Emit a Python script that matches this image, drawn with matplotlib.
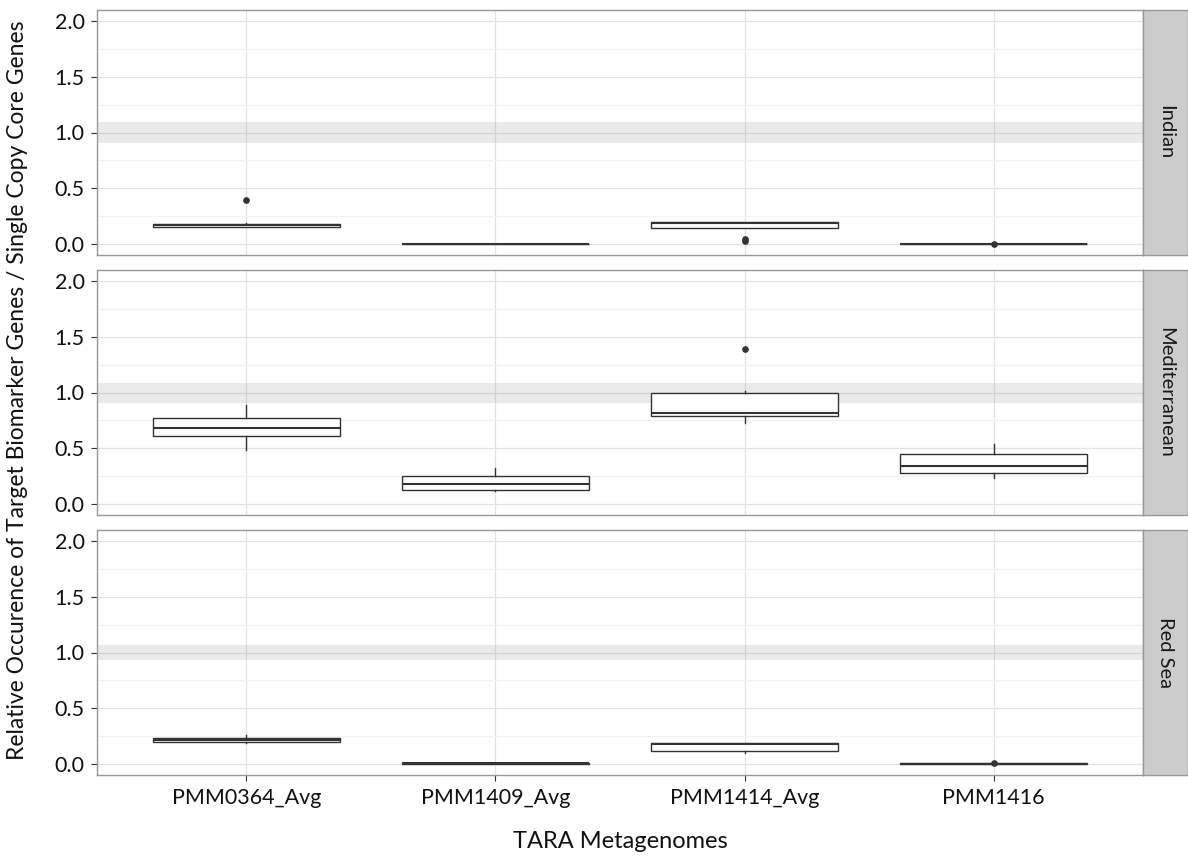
import matplotlib.pyplot as plt
from matplotlib.ticker import MultipleLocator

plt.rcParams['font.family'] = ['Lato', 'DejaVu Sans']

# categories and facets
samples = ["PMM0364_Avg", "PMM1409_Avg", "PMM1414_Avg", "PMM1416"]
regions = ["Indian", "Mediterranean", "Red Sea"]

# box statistics per region, one value per sample
whislo = {
    "Indian": [0.15, 0.0, 0.145, 0.0],
    "Mediterranean": [0.48, 0.12, 0.73, 0.23],
    "Red Sea": [0.19, 0.0, 0.096, 0.0],
}
q1 = {
    "Indian": [0.15, 0.0, 0.145, 0.0],
    "Mediterranean": [0.605, 0.125, 0.79, 0.28],
    "Red Sea": [0.195, 0.0, 0.12, 0.0],
}
median = {
    "Indian": [0.165, 0.0, 0.19, 0.0],
    "Mediterranean": [0.68, 0.175, 0.82, 0.34],
    "Red Sea": [0.21, 0.005, 0.18, 0.0],
}
q3 = {
    "Indian": [0.18, 0.0, 0.197, 0.0],
    "Mediterranean": [0.775, 0.25, 1.0, 0.445],
    "Red Sea": [0.23, 0.01, 0.188, 0.005],
}
whishi = {
    "Indian": [0.19, 0.0, 0.197, 0.0],
    "Mediterranean": [0.89, 0.326, 1.013, 0.535],
    "Red Sea": [0.26, 0.01, 0.188, 0.005],
}
fliers = {
    "Indian": [[0.395], [], [0.03, 0.045], [0.003]],
    "Mediterranean": [[], [], [1.39], []],
    "Red Sea": [[], [], [], [0.005]],
}
# reference band around 1.0 (low, high)
band = {
    "Indian": (0.91, 1.09),
    "Mediterranean": (0.905, 1.085),
    "Red Sea": (0.93, 1.065),
}

W, H = 1188, 859
fig = plt.figure(figsize=(W / 100, H / 100), dpi=100)

panel_left, panel_right, strip_right = 97, 1143, 1188
panel_tops = [10, 270, 530]
panel_h = 245

edge = '#333333'
for i, reg in enumerate(regions):
    top = panel_tops[i]
    ax = fig.add_axes([panel_left / W, 1 - (top + panel_h) / H,
                       (panel_right - panel_left) / W, panel_h / H])
    sax = fig.add_axes([panel_right / W, 1 - (top + panel_h) / H,
                        (strip_right - panel_right) / W, panel_h / H])

    ax.set_axisbelow(True)
    ax.yaxis.set_major_locator(MultipleLocator(0.5))
    ax.yaxis.set_minor_locator(MultipleLocator(0.25))
    ax.grid(which='major', color='#E2E2E2', linewidth=0.9)
    ax.grid(which='minor', axis='y', color='#F3F3F3', linewidth=0.9)
    ax.axhspan(band[reg][0], band[reg][1], color='#999999', alpha=0.2,
               linewidth=0, zorder=1)

    stats = []
    for j, s in enumerate(samples):
        stats.append(dict(med=median[reg][j], q1=q1[reg][j], q3=q3[reg][j],
                          whislo=whislo[reg][j], whishi=whishi[reg][j],
                          fliers=fliers[reg][j], label=s))
    ax.bxp(stats, positions=[1, 2, 3, 4], widths=0.75, showcaps=False,
           patch_artist=True,
           boxprops=dict(facecolor='white', edgecolor=edge, linewidth=1.0),
           whiskerprops=dict(color=edge, linewidth=1.0),
           medianprops=dict(color=edge, linewidth=1.5),
           flierprops=dict(marker='o', markersize=3.8, markerfacecolor=edge,
                           markeredgecolor=edge, linestyle='none'),
           zorder=3)

    ax.set_xlim(0.4, 4.6)
    ax.set_ylim(-0.1, 2.1)
    ax.set_yticks([0.0, 0.5, 1.0, 1.5, 2.0])
    ax.set_yticklabels(['0.0', '0.5', '1.0', '1.5', '2.0'])
    ax.set_xticks([1, 2, 3, 4])
    ax.tick_params(axis='both', which='major', length=4, color='#333333',
                   labelsize=15.5, labelcolor='#111111', pad=5)
    ax.tick_params(axis='y', which='minor', length=0)
    if i < 2:
        ax.tick_params(axis='x', length=0, labelbottom=False)
    else:
        ax.set_xticklabels(samples)
    for sp in ax.spines.values():
        sp.set_color('#999999')
        sp.set_linewidth(1.0)

    sax.set_facecolor('#CCCCCC')
    sax.set_xticks([])
    sax.set_yticks([])
    for sp in sax.spines.values():
        sp.set_color('#999999')
        sp.set_linewidth(1.0)
    sax.text(0.5, 0.5, reg, rotation=270, ha='center', va='center',
             fontsize=14.5, color='#1a1a1a', transform=sax.transAxes)

fig.text((panel_left + panel_right) / 2 / W, 1 - 842 / H, "TARA Metagenomes",
         ha='center', va='center', fontsize=17, color='#111111')
fig.text(18 / W, 1 - 390 / H,
         "Relative Occurence of Target Biomarker Genes / Single Copy Core Genes",
         rotation=90, ha='center', va='center', fontsize=16.5, color='#111111')

fig.savefig('out.png', dpi=100)
